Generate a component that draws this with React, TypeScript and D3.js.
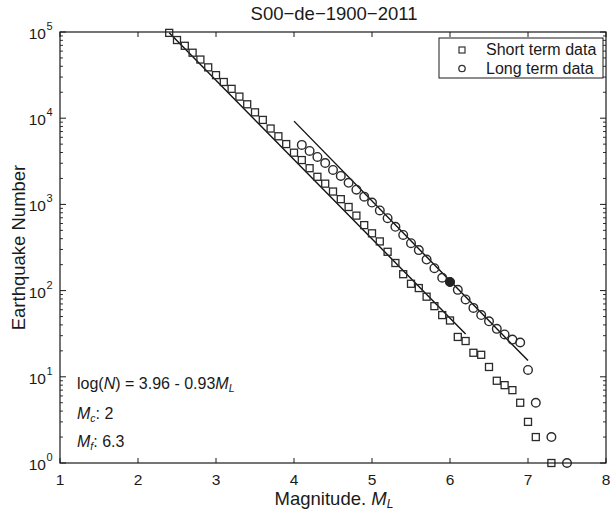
import React from "react";
import * as d3 from "d3";

const W = 612;
const H = 511;

// Short term catalogue: magnitude bins and cumulative counts
const shortMag = [
  2.4, 2.5, 2.6, 2.7, 2.8, 2.9, 3.0, 3.1, 3.2, 3.3, 3.4, 3.5, 3.6, 3.7, 3.8, 3.9,
  4.0, 4.1, 4.2, 4.3, 4.4, 4.5, 4.6, 4.7, 4.8, 4.9, 5.0, 5.1, 5.2, 5.3, 5.4, 5.5,
  5.6, 5.7, 5.8, 5.9, 6.0, 6.1, 6.2, 6.3, 6.4, 6.5, 6.6, 6.7, 6.8, 6.9, 7.0, 7.1, 7.3,
];
const shortCount = [
  97700, 80700, 69200, 57500, 47900, 38900, 31600, 26300, 21900, 17800, 14500, 11700,
  9550, 7590, 6170, 5010, 3980, 3270, 2630, 2090, 1740, 1410, 1150, 933, 741, 575, 462,
  372, 282, 209, 155, 120, 107, 85, 66, 52, 45, 29, 26, 19, 18, 13, 9, 8, 7, 5, 3, 2, 1,
];

// Long term catalogue
const longMag = [
  4.1, 4.2, 4.3, 4.4, 4.5, 4.6, 4.7, 4.8, 4.9, 5.0, 5.1, 5.2, 5.3, 5.4, 5.5, 5.6, 5.7,
  5.8, 5.9, 6.0, 6.1, 6.2, 6.3, 6.4, 6.5, 6.6, 6.7, 6.8, 6.9, 7.0, 7.1, 7.3, 7.5,
];
const longCount = [
  4900, 4170, 3550, 3020, 2510, 2140, 1780, 1480, 1230, 1050, 851, 692, 550, 442, 355,
  295, 229, 182, 141, 126, 102, 79, 63, 52, 44, 36, 31, 27, 25, 12, 5, 2, 1,
];

// Highlighted point on the long term series
const markedMag = [6.0];
const markedCount = [126];

// Fitted lines: log10(N) = intercept + slope * M over [from, to]
const fitIntercept = [7.2, 7.67];
const fitSlope = [-0.92, -0.926];
const fitFrom = [2.4, 4.0];
const fitTo = [6.2, 7.0];

const xTicks = [1, 2, 3, 4, 5, 6, 7, 8];
const yExponents = [0, 1, 2, 3, 4, 5];

const FONT = "'Liberation Sans', Arial, Helvetica, sans-serif";
const INK = "#1a1a1a";

const x = d3.scaleLinear().domain([1, 8]).range([60, 606]);
const y = d3.scaleLog().domain([1, 1e5]).range([463, 32]);

export default function App() {
  const [x0, x1] = x.range();
  const [y0, y1] = y.range();

  const minorY: number[] = [];
  for (let e = 0; e < 5; e++) {
    for (let k = 2; k <= 9; k++) minorY.push(k * Math.pow(10, e));
  }

  const line = d3
    .line<[number, number]>()
    .x((d) => x(d[0]))
    .y((d) => y(Math.pow(10, d[1])));

  const sq = 7;
  const cr = 4.3;

  return (
    <svg
      width={W}
      height={H}
      style={{ position: "absolute", left: 0, top: 0, background: "#fff" }}
      fontFamily={FONT}
    >
      <rect x={0} y={0} width={W} height={H} fill="#fff" />
      {/* title */}
      <text x={334} y={20} textAnchor="middle" fontSize={18.5} fill={INK}>
        S00−de−1900−2011
      </text>

      {/* fitted lines */}
      {fitIntercept.map((a, i) => (
        <path
          key={"fit" + i}
          d={
            line([
              [fitFrom[i], a + fitSlope[i] * fitFrom[i]],
              [fitTo[i], a + fitSlope[i] * fitTo[i]],
            ]) || ""
          }
          stroke="#111"
          strokeWidth={1.4}
          fill="none"
        />
      ))}

      {/* short term squares */}
      {shortMag.map((m, i) => (
        <rect
          key={"s" + i}
          x={x(m) - sq / 2}
          y={y(shortCount[i]) - sq / 2}
          width={sq}
          height={sq}
          fill="none"
          stroke="#2a2a2a"
          strokeWidth={1.3}
        />
      ))}

      {/* long term circles */}
      {longMag.map((m, i) => (
        <circle
          key={"l" + i}
          cx={x(m)}
          cy={y(longCount[i])}
          r={cr}
          fill="none"
          stroke="#2a2a2a"
          strokeWidth={1.4}
        />
      ))}
      {markedMag.map((m, i) => (
        <circle key={"f" + i} cx={x(m)} cy={y(markedCount[i])} r={cr} fill="#222" stroke="#222" strokeWidth={1} />
      ))}

      {/* axes box */}
      <rect x={x0} y={y1} width={x1 - x0} height={y0 - y1} fill="none" stroke={INK} strokeWidth={1.2} />

      {/* x ticks */}
      {xTicks.map((t) => (
        <g key={"xt" + t}>
          <line x1={x(t)} x2={x(t)} y1={y0} y2={y0 - 5} stroke={INK} strokeWidth={1} />
          <line x1={x(t)} x2={x(t)} y1={y1} y2={y1 + 5} stroke={INK} strokeWidth={1} />
          <text x={x(t)} y={484.5} textAnchor="middle" fontSize={15.5} fill={INK}>
            {t}
          </text>
        </g>
      ))}

      {/* y ticks */}
      {yExponents.map((e) => {
        const yy = y(Math.pow(10, e));
        return (
          <g key={"yt" + e}>
            <line x1={x0} x2={x0 + 6} y1={yy} y2={yy} stroke={INK} strokeWidth={1} />
            <line x1={x1} x2={x1 - 6} y1={yy} y2={yy} stroke={INK} strokeWidth={1} />
            <text x={46} y={yy + 7} textAnchor="end" fontSize={15.5} fill={INK}>
              10
            </text>
            <text x={46.5} y={yy - 2} textAnchor="start" fontSize={11} fill={INK}>
              {e}
            </text>
          </g>
        );
      })}
      {minorY.map((v, i) => (
        <g key={"ym" + i}>
          <line x1={x0} x2={x0 + 3} y1={y(v)} y2={y(v)} stroke={INK} strokeWidth={0.9} />
          <line x1={x1} x2={x1 - 3} y1={y(v)} y2={y(v)} stroke={INK} strokeWidth={0.9} />
        </g>
      ))}

      {/* axis titles */}
      <text x={334} y={505} textAnchor="middle" fontSize={18.5} fill={INK}>
        Magnitude.{" "}
        <tspan fontStyle="italic">M</tspan>
        <tspan fontStyle="italic" fontSize={12} dy={2.5}>
          L
        </tspan>
      </text>
      <text
        transform={`translate(25,${(y0 + y1) / 2}) rotate(-90)`}
        textAnchor="middle"
        fontSize={18.5}
        fill={INK}
      >
        Earthquake Number
      </text>

      {/* legend */}
      <rect x={439} y={38} width={164} height={40} fill="#fff" stroke={INK} strokeWidth={1} />
      <rect x={459} y={47} width={6} height={6} fill="none" stroke="#333" strokeWidth={1.2} />
      <text x={486} y={55} fontSize={16} fill={INK}>
        Short term data
      </text>
      <circle cx={462} cy={68.5} r={3.2} fill="none" stroke="#333" strokeWidth={1.3} />
      <text x={486} y={73.5} fontSize={16} fill={INK}>
        Long term data
      </text>

      {/* annotations */}
      <text x={77} y={389} fontSize={16} fill={INK}>
        log(<tspan fontStyle="italic">N</tspan>) = 3.96 - 0.93<tspan fontStyle="italic">M</tspan>
        <tspan fontStyle="italic" fontSize={10.5} dy={3}>
          L
        </tspan>
      </text>
      <text x={77} y={419} fontSize={16} fill={INK}>
        <tspan fontStyle="italic">M</tspan>
        <tspan fontStyle="italic" fontSize={10.5} dy={3}>
          c
        </tspan>
        <tspan dy={-3}>: 2</tspan>
      </text>
      <text x={77} y={447} fontSize={16} fill={INK}>
        <tspan fontStyle="italic">M</tspan>
        <tspan fontStyle="italic" fontSize={10.5} dy={3}>
          f
        </tspan>
        <tspan dy={-3}>: 6.3</tspan>
      </text>
    </svg>
  );
}
